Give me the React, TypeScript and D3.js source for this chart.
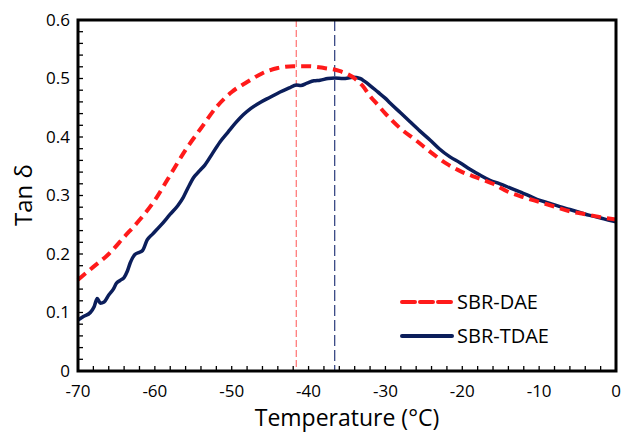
import { useEffect, useRef } from 'react';
import * as d3 from 'd3';

// Tan delta vs temperature
const daeTemps = [-70, -68, -66, -64, -62, -60, -58, -56, -54, -52, -50, -48, -46, -44, -42, -40, -38, -36, -34, -33, -32, -31, -30, -28, -26, -24, -22, -20, -18, -16, -14, -12, -10, -8, -6, -4, -2, 0];
const daeValues = [0.156, 0.178, 0.2, 0.229, 0.258, 0.292, 0.335, 0.378, 0.415, 0.451, 0.477, 0.494, 0.509, 0.518, 0.521, 0.521, 0.518, 0.513, 0.5, 0.488, 0.47, 0.455, 0.44, 0.414, 0.394, 0.373, 0.354, 0.34, 0.33, 0.32, 0.306, 0.297, 0.289, 0.281, 0.273, 0.268, 0.263, 0.259];

const tdaeTemps = [-70, -69.3, -68.4, -67.9, -67.5, -67.1, -66.6, -66, -65.4, -65, -64.5, -64, -63.6, -63.2, -62.6, -62, -61.6, -61, -60.3, -59.3, -58, -57, -56.3, -55.5, -55, -54.2, -53.5, -52.5, -51.5, -50.5, -49.5, -48.5, -47.5, -46.3, -45, -43.7, -42.5, -41.6, -41, -40.2, -39.3, -38.5, -37.5, -36.6, -35.5, -34.2, -33.3, -32.7, -32, -31, -30, -29.4, -28, -26.8, -25.5, -24.2, -23, -21.6, -20.3, -19, -17.7, -16.4, -15.1, -13.8, -12.5, -11.2, -10, -8.7, -7.3, -6, -4.7, -3.4, -2.1, -1, 0];
const tdaeValues = [0.087, 0.093, 0.1, 0.11, 0.124, 0.116, 0.118, 0.13, 0.14, 0.15, 0.155, 0.16, 0.17, 0.185, 0.199, 0.203, 0.206, 0.224, 0.234, 0.248, 0.268, 0.283, 0.297, 0.318, 0.33, 0.342, 0.352, 0.372, 0.392, 0.408, 0.424, 0.438, 0.449, 0.459, 0.468, 0.477, 0.484, 0.489, 0.488, 0.492, 0.496, 0.497, 0.5, 0.501, 0.5, 0.502, 0.5, 0.495, 0.488, 0.477, 0.466, 0.458, 0.441, 0.426, 0.41, 0.395, 0.38, 0.366, 0.356, 0.345, 0.335, 0.326, 0.32, 0.313, 0.306, 0.299, 0.292, 0.287, 0.281, 0.276, 0.271, 0.266, 0.262, 0.258, 0.255];

const daePeak = -41.6;
const tdaePeak = -36.6;

const xTicks = [-70, -60, -50, -40, -30, -20, -10, 0];
const yTicks = [0, 0.1, 0.2, 0.3, 0.4, 0.5, 0.6];

const seriesNames = ['SBR-DAE', 'SBR-TDAE'];

const RED = '#ff1a1a';
const NAVY = '#0b1e5b';
const FONT = '"Open Sans", "Noto Sans", sans-serif';

const App = () => {
  const svgRef = useRef<SVGSVGElement | null>(null);
  const width = 622;
  const height = 432;
  const margin = { top: 20, right: 6, bottom: 61, left: 78 };

  useEffect(() => {
    const svg = d3.select(svgRef.current);
    svg.selectAll('*').remove();

    const innerWidth = width - margin.left - margin.right;
    const innerHeight = height - margin.top - margin.bottom;

    const x = d3.scaleLinear().domain([-70, 0]).range([0, innerWidth]);
    const y = d3.scaleLinear().domain([0, 0.6]).range([innerHeight, 0]);

    const g = svg.append('g')
      .attr('transform', `translate(${margin.left},${margin.top})`);

    // minor ticks, pointing inward
    const xMinor = d3.range(-70, 0.01, 2);
    g.selectAll('.xminor')
      .data(xMinor)
      .enter()
      .append('line')
      .attr('x1', d => x(d))
      .attr('x2', d => x(d))
      .attr('y1', innerHeight)
      .attr('y2', innerHeight - 5)
      .attr('stroke', '#000')
      .attr('stroke-width', 1.3);

    const yMinor = d3.range(0, 0.601, 0.02);
    g.selectAll('.yminor')
      .data(yMinor)
      .enter()
      .append('line')
      .attr('x1', 0)
      .attr('x2', 5)
      .attr('y1', d => y(d))
      .attr('y2', d => y(d))
      .attr('stroke', '#000')
      .attr('stroke-width', 1.3);

    // peak markers
    const peaks = [
      { t: daePeak, color: '#ff7070', dash: '7,3' },
      { t: tdaePeak, color: '#2a3a7a', dash: '11,4' }
    ];
    g.selectAll('.peak')
      .data(peaks)
      .enter()
      .append('line')
      .attr('x1', d => x(d.t))
      .attr('x2', d => x(d.t))
      .attr('y1', 0)
      .attr('y2', innerHeight)
      .attr('stroke', d => d.color)
      .attr('stroke-width', 1.2)
      .attr('stroke-dasharray', d => d.dash);

    const line = d3.line<[number, number]>()
      .x(d => x(d[0]))
      .y(d => y(d[1]))
      .curve(d3.curveMonotoneX);

    const dae = daeTemps.map((t, i) => [t, daeValues[i]] as [number, number]);
    const tdae = tdaeTemps.map((t, i) => [t, tdaeValues[i]] as [number, number]);

    g.append('path')
      .attr('d', line(tdae))
      .attr('fill', 'none')
      .attr('stroke', NAVY)
      .attr('stroke-width', 3.5)
      .attr('stroke-linejoin', 'round');

    g.append('path')
      .attr('d', line(dae))
      .attr('fill', 'none')
      .attr('stroke', RED)
      .attr('stroke-width', 4)
      .attr('stroke-dasharray', '10,6');

    // frame
    g.append('rect')
      .attr('x', 0)
      .attr('y', 0)
      .attr('width', innerWidth)
      .attr('height', innerHeight)
      .attr('fill', 'none')
      .attr('stroke', '#000')
      .attr('stroke-width', 3);

    // tick labels (plain hyphen for negatives, as in the source)
    g.selectAll('.xlabel')
      .data(xTicks)
      .enter()
      .append('text')
      .attr('x', d => x(d))
      .attr('y', innerHeight + 26)
      .attr('text-anchor', 'middle')
      .attr('font-family', FONT)
      .attr('font-size', 17)
      .attr('fill', '#000')
      .text(d => String(d));

    g.selectAll('.ylabel')
      .data(yTicks)
      .enter()
      .append('text')
      .attr('x', -8)
      .attr('y', d => y(d))
      .attr('dy', '0.35em')
      .attr('text-anchor', 'end')
      .attr('font-family', FONT)
      .attr('font-size', 17)
      .attr('fill', '#000')
      .text(d => (d === 0 ? '0' : d3.format('.1f')(d)));

    // axis titles
    g.append('text')
      .attr('x', innerWidth / 2)
      .attr('y', innerHeight + 55)
      .attr('text-anchor', 'middle')
      .attr('font-family', FONT)
      .attr('font-size', 23)
      .attr('fill', '#000')
      .text('Temperature (°C)');

    g.append('text')
      .attr('transform', 'rotate(-90)')
      .attr('x', -(195 - margin.top))
      .attr('y', -margin.left + 32)
      .attr('text-anchor', 'middle')
      .attr('font-family', FONT)
      .attr('font-size', 24)
      .attr('fill', '#000')
      .text('Tan δ');

    // legend
    const legend = g.append('g')
      .attr('transform', `translate(${402 - margin.left},${302 - margin.top})`);
    const styles = [
      { color: RED, dash: '13,5', width: 4 },
      { color: NAVY, dash: null, width: 4 }
    ];
    seriesNames.forEach((name, i) => {
      const row = legend.append('g').attr('transform', `translate(0,${i * 34})`);
      row.append('line')
        .attr('x1', 0)
        .attr('x2', 50)
        .attr('y1', 0)
        .attr('y2', 0)
        .attr('stroke', styles[i].color)
        .attr('stroke-width', styles[i].width)
        .attr('stroke-linecap', 'round')
        .attr('stroke-dasharray', styles[i].dash);
      row.append('text')
        .attr('x', 55)
        .attr('y', 7)
        .attr('font-family', FONT)
        .attr('font-size', 20)
        .attr('fill', '#000')
        .text(name);
    });
  }, []);

  return (
    <div style={{ position: 'absolute', left: 0, top: 0 }}>
      <svg ref={svgRef} width={width} height={height}></svg>
    </div>
  );
};

export default App;
